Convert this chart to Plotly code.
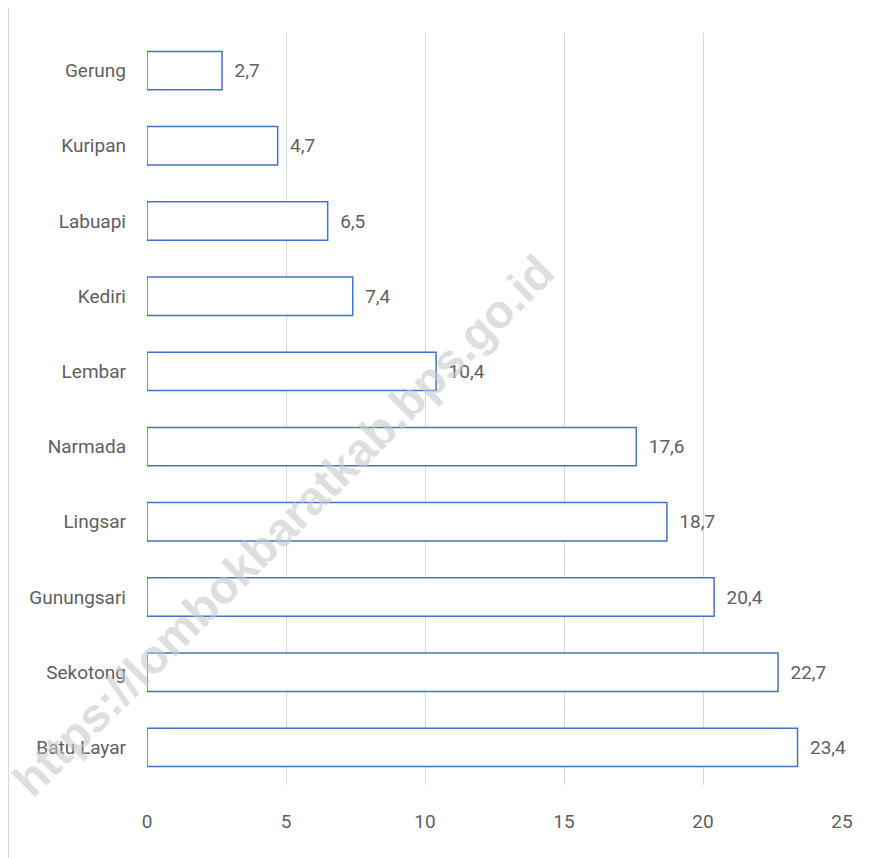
import plotly.graph_objects as go

categories = ["Gerung", "Kuripan", "Labuapi", "Kediri", "Lembar", "Narmada",
              "Lingsar", "Gunungsari", "Sekotong", "Batu Layar"]
values = [2.7, 4.7, 6.5, 7.4, 10.4, 17.6, 18.7, 20.4, 22.7, 23.4]
labels = ["\u00a0\u00a0" + f"{v:.1f}".replace(".", ",") for v in values]
x_ticks = [0, 5, 10, 15, 20, 25]

FONT = "Roboto, Open Sans, sans-serif"
GRAY = "#606060"

fig = go.Figure(go.Bar(
    y=categories, x=values, orientation="h",
    marker=dict(color="white", line=dict(color="#4472C4", width=1.5)),
    width=0.51,
    text=labels, textposition="outside", cliponaxis=False,
    textfont=dict(family=FONT, size=19, color=GRAY),
))

fig.update_layout(
    width=866, height=850,
    margin=dict(l=139, r=32, t=25, b=73, autoexpand=False),
    paper_bgcolor="white", plot_bgcolor="white",
    showlegend=False,
    xaxis=dict(range=[0, 25], tickvals=x_ticks, showgrid=True, gridcolor="#d9d9d9",
               gridwidth=1, zeroline=False, showline=False,
               tickfont=dict(family=FONT, size=19, color=GRAY),
               ticks="", ticklabelstandoff=23, automargin=False),
    yaxis=dict(autorange="reversed", showgrid=False, zeroline=False, showline=False,
               tickfont=dict(family=FONT, size=19, color=GRAY),
               ticks="", ticklabelstandoff=20, automargin=False),
    shapes=[dict(type="line", xref="paper", yref="paper",
                 x0=-138.5/695, x1=-138.5/695, y0=-73/752, y1=1+25/752,
                 line=dict(color="#d9d9d9", width=1))],
    annotations=[dict(text="<b>https://lombokbaratkab.bps.go.id</b>",
                      xref="paper", yref="paper", xanchor="center", yanchor="middle",
                      x=(283-147)/695, y=(785-525)/752,
                      showarrow=False, textangle=-45,
                      font=dict(family="Liberation Sans, Arial, sans-serif", size=47,
                                color="rgba(200,200,200,0.6)"))],
)

fig.write_html("out.html")
